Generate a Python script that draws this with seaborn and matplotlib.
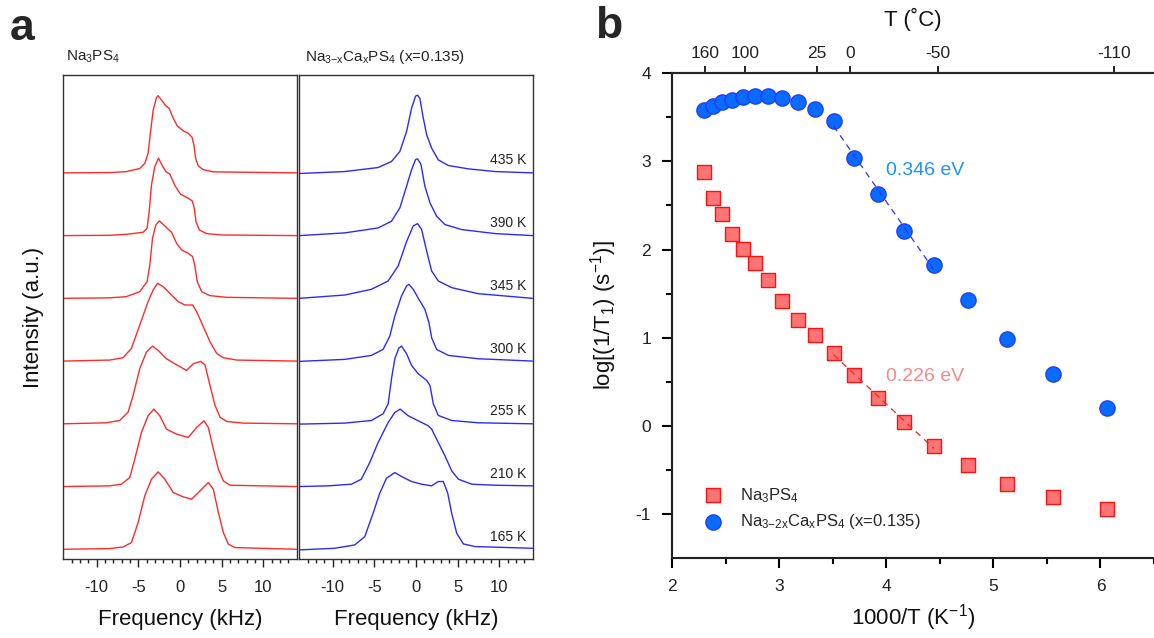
import numpy as np
import pandas as pd
import matplotlib
matplotlib.use("Agg")
import matplotlib.pyplot as plt
import seaborn as sns

# ---------------- data: panel a (spectra, intensity in units of trace spacing) ----------------
temps_a = [435, 390, 345, 300, 255, 210, 165]

na_435_f = [-14, -8.43, -6.43, -4.82, -4.22, -3.82, -3.53, -3.21, -2.81, -2.61, -2.21, -1.69, -1.29, -0.80, -0.32, 0.40, 1.00, 1.45, 1.69, 1.89, 2.21, 2.81, 4.02, 14]
na_435_i = [0, 0.005, 0.02, 0.07, 0.15, 0.31, 0.65, 1.00, 1.20, 1.23, 1.16, 1.07, 1.03, 0.87, 0.75, 0.67, 0.63, 0.57, 0.44, 0.23, 0.11, 0.05, 0.016, 0]
na_390_f = [-14, -8.43, -6.43, -4.42, -3.94, -3.69, -3.41, -3.01, -2.57, -2.21, -1.69, -1.20, -0.60, 0.08, 1.00, 1.49, 1.73, 1.93, 2.33, 3.21, 5.0, 14]
na_390_i = [0, 0.005, 0.02, 0.053, 0.117, 0.383, 0.81, 1.10, 1.234, 1.138, 1.02, 0.979, 0.798, 0.66, 0.596, 0.553, 0.436, 0.223, 0.09, 0.032, 0.01, 0]
na_345_f = [-14, -8.43, -6.43, -4.82, -3.94, -3.61, -3.29, -2.89, -2.49, -2.01, -1.53, -1.00, -0.40, 0.20, 1.00, 1.53, 1.77, 2.09, 2.61, 3.61, 5.62, 14]
na_345_i = [0, 0.008, 0.027, 0.106, 0.266, 0.532, 0.957, 1.17, 1.234, 1.18, 1.117, 1.053, 0.878, 0.771, 0.718, 0.665, 0.532, 0.266, 0.106, 0.043, 0.016, 0]
na_300_f = [-14, -8.43, -6.83, -5.82, -4.82, -3.82, -3.21, -2.69, -2.01, -1.20, -0.20, 0.60, 1.53, 2.01, 2.81, 3.61, 4.42, 5.22, 6.83, 14]
na_300_i = [0, 0.016, 0.053, 0.202, 0.574, 0.947, 1.133, 1.239, 1.186, 1.08, 0.947, 0.894, 0.894, 0.787, 0.548, 0.309, 0.122, 0.053, 0.016, 0]
na_255_f = [-14, -8.84, -7.23, -6.22, -5.62, -4.82, -4.02, -3.29, -2.61, -1.61, -0.40, 0.80, 1.61, 2.49, 3.01, 3.61, 4.22, 4.82, 5.62, 7.63, 14]
na_255_i = [0, 0.016, 0.053, 0.186, 0.452, 0.878, 1.144, 1.239, 1.17, 1.037, 0.941, 0.851, 0.957, 0.995, 0.941, 0.612, 0.293, 0.106, 0.037, 0.011, 0]
na_210_f = [-14, -8.43, -7.03, -6.02, -5.42, -4.62, -3.82, -3.13, -2.41, -1.61, -0.40, 1.00, 2.01, 2.89, 3.41, 4.02, 4.62, 5.22, 6.02, 14]
na_210_i = [0, 0.011, 0.037, 0.144, 0.436, 0.862, 1.128, 1.234, 1.128, 0.915, 0.835, 0.782, 0.943, 1.048, 0.943, 0.596, 0.277, 0.09, 0.021, 0]
na_165_f = [-14, -8.43, -6.83, -5.82, -5.02, -4.22, -3.41, -2.61, -1.81, -0.80, 0.40, 1.41, 2.41, 3.41, 4.02, 4.62, 5.22, 5.82, 6.63, 14]
na_165_i = [0, 0.011, 0.037, 0.106, 0.426, 0.851, 1.117, 1.234, 1.117, 0.904, 0.835, 0.798, 0.93, 1.064, 0.957, 0.585, 0.266, 0.08, 0.027, 0]

ca_435_f = [-14, -8.55, -4.54, -2.93, -1.93, -1.12, -0.52, -0.04, 0.20, 0.48, 0.88, 1.29, 1.89, 2.69, 3.90, 6.30, 9.52, 14]
ca_435_i = [-0.01, 0.021, 0.085, 0.181, 0.34, 0.66, 1.03, 1.223, 1.239, 1.186, 0.878, 0.609, 0.394, 0.207, 0.117, 0.064, 0.021, 0]
ca_390_f = [-14, -8.55, -4.54, -2.93, -1.93, -1.12, -0.52, -0.04, 0.20, 0.60, 1.08, 1.69, 2.49, 3.49, 5.50, 9.52, 14]
ca_390_i = [0, 0.043, 0.122, 0.229, 0.441, 0.787, 1.05, 1.213, 1.223, 1.138, 0.787, 0.521, 0.309, 0.176, 0.096, 0.032, 0]
ca_345_f = [-14, -8.55, -5.34, -3.33, -2.13, -1.12, -0.32, 0.20, 0.68, 1.29, 1.89, 2.69, 4.30, 7.50, 14]
ca_345_i = [0, 0.053, 0.144, 0.277, 0.516, 0.904, 1.154, 1.191, 1.101, 0.755, 0.436, 0.277, 0.17, 0.074, 0]
ca_300_f = [-14, -8.55, -5.34, -3.94, -3.13, -2.53, -1.73, -1.12, -0.84, -0.32, 0.36, 1.08, 1.57, 1.89, 2.49, 3.90, 7.50, 14]
ca_300_i = [-0.005, 0.027, 0.09, 0.186, 0.399, 0.718, 1.037, 1.197, 1.223, 1.144, 0.984, 0.824, 0.612, 0.372, 0.186, 0.09, 0.037, 0]
ca_255_f = [-14, -8.55, -5.34, -3.94, -3.33, -2.93, -2.53, -2.05, -1.73, -1.12, -0.52, 0.28, 1.29, 1.69, 2.09, 2.69, 4.30, 7.50, 14]
ca_255_i = [-0.005, 0.011, 0.053, 0.16, 0.319, 0.718, 1.037, 1.207, 1.239, 1.117, 0.931, 0.798, 0.691, 0.612, 0.319, 0.133, 0.053, 0.016, 0]
ca_210_f = [-14, -10.56, -7.75, -6.55, -5.54, -4.54, -3.33, -2.53, -1.89, -0.92, 0.28, 1.49, 1.89, 2.69, 3.49, 4.30, 5.10, 6.71, 9.52, 14]
ca_210_i = [0, 0.011, 0.037, 0.117, 0.383, 0.702, 1.021, 1.181, 1.234, 1.128, 1.048, 0.968, 0.915, 0.702, 0.489, 0.25, 0.117, 0.037, 0.021, 0.011]
ca_165_f = [-14, -9.76, -7.35, -6.14, -5.14, -4.34, -3.53, -2.53, -1.73, -0.52, 0.68, 1.89, 2.69, 3.29, 3.82, 4.30, 4.90, 5.70, 7.11, 14]
ca_165_i = [-0.01, 0.016, 0.069, 0.202, 0.574, 0.894, 1.133, 1.223, 1.16, 1.08, 1.037, 1.011, 1.08, 1.08, 0.894, 0.574, 0.255, 0.085, 0.043, 0.016]

na_traces = [(na_435_f, na_435_i), (na_390_f, na_390_i), (na_345_f, na_345_i), (na_300_f, na_300_i),
             (na_255_f, na_255_i), (na_210_f, na_210_i), (na_165_f, na_165_i)]
ca_traces = [(ca_435_f, ca_435_i), (ca_390_f, ca_390_i), (ca_345_f, ca_345_i), (ca_300_f, ca_300_i),
             (ca_255_f, ca_255_i), (ca_210_f, ca_210_i), (ca_165_f, ca_165_i)]

freq_ticks = [-10, -5, 0, 5, 10]

# ---------------- data: panel b ----------------
temps_b = [435, 420, 405, 390, 375, 360, 345, 330, 315, 300, 285, 270, 255, 240, 225, 210, 195, 180, 165]
log_rate_na3ps4 = [2.88, 2.58, 2.40, 2.18, 2.01, 1.85, 1.65, 1.42, 1.20, 1.03, 0.83, 0.58, 0.31, 0.04, -0.23, -0.45, -0.66, -0.81, -0.94]
log_rate_ca = [3.58, 3.63, 3.68, 3.70, 3.73, 3.74, 3.74, 3.72, 3.67, 3.59, 3.46, 3.04, 2.63, 2.21, 1.83, 1.43, 0.99, 0.59, 0.20]
fit_T_range = (225, 285)
top_ticks_C = [160, 100, 25, 0, -50, -110]

# ---------------- style ----------------
sns.set_theme(style="ticks")
plt.rcParams['font.family'] = ['Liberation Sans', 'DejaVu Sans']
plt.rcParams['mathtext.fontset'] = 'custom'
plt.rcParams['mathtext.rm'] = 'Liberation Sans'
plt.rcParams['mathtext.it'] = 'Liberation Sans:italic'
plt.rcParams['mathtext.bf'] = 'Liberation Sans:bold'
plt.rcParams['axes.unicode_minus'] = False

W, H = 1154, 638
fig = plt.figure(figsize=(W / 100, H / 100), dpi=100)

def fx(px):
    return px / W

def fy(py):
    return 1 - py / H

# panel a axes
axL = fig.add_axes([fx(63.3), fy(559), fx(296.5 - 63.3), (559 - 75) / H])
axR = fig.add_axes([fx(299.3), fy(559), fx(532.5 - 299.3), (559 - 75) / H])

red_line = '#ff2a2a'
blue_line = '#2a2aff'
for ax, traces, col in [(axL, na_traces, red_line), (axR, ca_traces, blue_line)]:
    for k, (f, inten) in enumerate(traces):
        off = len(traces) - 1 - k
        sns.lineplot(x=np.array(f), y=np.array(inten) + off, ax=ax, color=col,
                     linewidth=1.0, sort=False, estimator=None)
    ax.set_xlim(-14, 14)
    ax.set_ylim(-0.155, 7.56)
    ax.set_yticks([])
    ax.set_xticks(freq_ticks)
    ax.set_xticks(np.arange(-13, 14, 1), minor=True)
    ax.tick_params(axis='x', which='major', direction='out', length=6, width=1.0,
                   labelsize=12, colors='#222222', pad=9)
    ax.tick_params(axis='x', which='minor', direction='out', length=3, width=1.0, colors='#222222')
    for s in ax.spines.values():
        s.set_visible(True)
        s.set_color('#333333')
        s.set_linewidth(1.0)
    ax.set_xlabel('Frequency (kHz)', fontsize=16, color='#111111', labelpad=10)
    ax.set_ylabel('')
    ax.set_facecolor('white')

axL.set_ylabel('Intensity (a.u.)', fontsize=16, color='#111111', labelpad=14)

for k, T in enumerate(temps_a):
    off = len(temps_a) - 1 - k
    axR.text(13.3, off + 0.2, f'{T} K', ha='right', va='center', fontsize=10, color='#222222')

fig.text(fx(66), fy(57), r'Na$_3$PS$_4$', fontsize=11, ha='left', va='center', color='#222222')
fig.text(fx(305), fy(57), r'Na$_\mathrm{3{-}x}$Ca$_\mathrm{x}$PS$_4$ (x=0.135)', fontsize=11,
         ha='left', va='center', color='#222222')
fig.text(fx(10), fy(28), 'a', fontsize=32, fontweight='bold', ha='left', va='center')
fig.text(fx(595), fy(26), 'b', fontsize=32, fontweight='bold', ha='left', va='center')

# panel b
axB = fig.add_axes([fx(672), fy(558), fx(1154 - 672), (558 - 73.3) / H])
inv_T = 1000.0 / np.array(temps_b)
df_b = pd.DataFrame({'invT': inv_T, 'na': log_rate_na3ps4, 'ca': log_rate_ca})

sns.scatterplot(data=df_b, x='invT', y='na', ax=axB, marker='s', s=95, color='#ff7474',
                edgecolor='#ff1010', linewidth=1.0, label=r'Na$_3$PS$_4$', zorder=3)
sns.scatterplot(data=df_b, x='invT', y='ca', ax=axB, marker='o', s=120, color='#0a6cff',
                edgecolor='#1f3cff', linewidth=1.0,
                label=r'Na$_\mathrm{3{-}2x}$Ca$_\mathrm{x}$PS$_4$ (x=0.135)', zorder=3)

mask = (np.array(temps_b) >= fit_T_range[0]) & (np.array(temps_b) <= fit_T_range[1])
for col_name, lc in [('ca', '#3030ff'), ('na', '#ff2020')]:
    sub = df_b[mask]
    p = np.polyfit(sub['invT'], sub[col_name], 1)
    xs = np.array([sub['invT'].min(), sub['invT'].max()])
    sns.lineplot(x=xs, y=np.polyval(p, xs), ax=axB, color=lc, linewidth=0.9,
                 linestyle=(0, (5, 4)), zorder=4)

axB.text(4.0, 2.90, '0.346 eV', color='#1e90ff', fontsize=14, ha='left', va='center')
axB.text(4.0, 0.56, '0.226 eV', color='#f88888', fontsize=14, ha='left', va='center')

axB.set_xlim(2, 2 + (1154 - 672) / 107.5)
axB.set_ylim(-1.5, 4)
axB.set_xticks([2, 3, 4, 5, 6])
axB.set_xticks(np.arange(2.5, 6.6, 1.0), minor=True)
axB.set_yticks([-1, 0, 1, 2, 3, 4])
axB.set_yticks(np.arange(-0.5, 4, 1.0), minor=True)
axB.tick_params(which='major', direction='out', length=7, width=1.5, labelsize=12.5,
                colors='black', labelcolor='#222222', pad=8)
axB.tick_params(which='minor', direction='out', length=4, width=1.5, colors='black')
axB.spines['right'].set_visible(False)
axB.spines['top'].set_visible(True)
for s in ['left', 'bottom', 'top']:
    axB.spines[s].set_linewidth(1.5)
    axB.spines[s].set_color('black')
axB.set_xlabel(r'1000/T (K$^{-1}$)', fontsize=16, color='#111111', labelpad=6)
axB.set_ylabel(r'log[(1/T$_1$) (s$^{-1}$)]', fontsize=16, color='#111111', labelpad=12)

axT = axB.twiny()
axT.set_xlim(axB.get_xlim())
axT.set_xticks(1000.0 / (np.array(top_ticks_C) + 273.15))
axT.set_xticklabels([str(t) for t in top_ticks_C])
axT.tick_params(axis='x', which='major', direction='out', length=5, width=1.2,
                labelsize=12.5, colors='black', labelcolor='#222222', pad=4)
axT.spines['right'].set_visible(False)
axT.spines['top'].set_linewidth(1.5)
axT.set_xlabel('T (˚C)', fontsize=16, color='#111111', labelpad=14)

leg = axB.legend(loc='lower left', bbox_to_anchor=(0.03, 0.035), frameon=False, fontsize=12,
                 handletextpad=0.6, labelspacing=0.45, borderaxespad=0.2)

fig.savefig('out.png', dpi=100, facecolor='white')
